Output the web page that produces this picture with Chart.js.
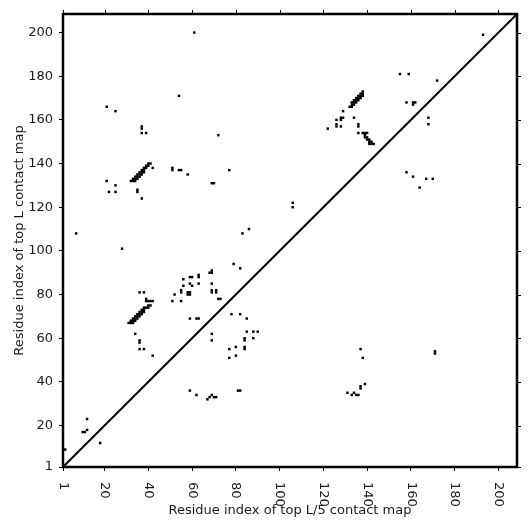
<!DOCTYPE html>
<html>
<head>
<meta charset="utf-8">
<script src="https://cdn.jsdelivr.net/npm/chart.js@4/dist/chart.umd.min.js"></script>
<style>
html, body { margin: 0; padding: 0; background: #fff; }
</style>
</head>
<body>
<canvas id="contact-map" width="531" height="531"></canvas>
<script>
// residue pairs above the diagonal (top L contacts)
const upperX = [61, 193, 54, 21, 25, 37, 37, 37, 39, 72, 77,
    132, 133, 133, 134, 134, 135, 135, 136, 136, 137, 137, 138, 138, 138, 133, 134, 135, 136, 137,
    129, 128, 129, 128, 126, 134, 126, 126, 128, 122, 136, 136, 136, 138, 139, 140,
    139, 139, 140, 140, 141, 141, 142, 141, 142, 143,
    155, 159, 172, 158, 161, 162, 161,
    32, 33, 34, 33, 34, 35, 34, 35, 36, 35, 36, 37, 36, 37, 38, 37, 38, 38, 39, 39, 40, 40, 41, 42,
    51, 51, 54, 55, 58, 69, 70, 35, 35, 37, 21, 25, 25, 22, 106, 106, 7, 28, 86, 83, 79, 82,
    68, 69, 69, 63, 63, 60, 59, 56, 56, 59, 60, 63, 69, 52, 51, 55, 55, 55, 58, 59, 58, 59,
    69, 69, 71, 71, 72, 73, 36, 38, 39, 39, 40, 41, 42, 40, 41, 38, 39, 40,
    31, 32, 33, 32, 33, 34, 33, 34, 35, 34, 35, 36, 35, 36, 37, 36, 37, 38, 37, 38,
    34, 36, 36, 36, 38, 42, 59, 62, 63, 2, 12, 12, 10, 11, 18]
const upperY = [200, 199, 171, 166, 164, 157, 156, 154, 154, 153, 137,
    166, 166, 167, 167, 168, 168, 169, 169, 170, 170, 171, 171, 172, 173, 168, 169, 170, 171, 172,
    164, 161, 161, 160, 160, 161, 157, 158, 157, 156, 158, 157, 154, 154, 154, 154,
    153, 152, 152, 151, 151, 150, 150, 149, 149, 149,
    181, 181, 178, 168, 168, 168, 167,
    132, 132, 132, 133, 133, 133, 134, 134, 134, 135, 135, 135, 136, 136, 136, 137, 137, 138, 138, 139, 139, 140, 140, 138,
    137, 138, 137, 137, 135, 131, 131, 128, 127, 124, 132, 130, 127, 127, 122, 120, 108, 101, 110, 108, 94, 92,
    90, 90, 91, 89, 88, 88, 88, 87, 84, 85, 84, 85, 85, 80, 77, 82, 81, 77, 81, 81, 80, 80,
    82, 81, 82, 81, 78, 78, 81, 81, 78, 77, 77, 77, 77, 75, 75, 74, 74, 74,
    67, 67, 67, 68, 68, 68, 69, 69, 69, 70, 70, 70, 71, 71, 71, 72, 72, 72, 73, 73,
    62, 59, 58, 55, 55, 52, 69, 69, 69, 9, 23, 18, 17, 17, 12]

// residue pairs below the diagonal (top L/5 contacts)
const lowerX = [78, 82, 85, 69, 69, 85, 88, 90, 84, 84, 88, 84, 84, 80, 77, 77, 80,
    67, 68, 69, 70, 71, 81, 82, 59, 62,
    131, 133, 134, 135, 136, 137, 137, 139, 137, 138, 171, 171,
    158, 161, 164, 167, 170, 168, 168]
const lowerY = [71, 71, 69, 62, 59, 63, 63, 63, 60, 59, 60, 56, 55, 56, 55, 51, 52,
    32, 33, 34, 33, 33, 36, 36, 36, 34,
    35, 34, 35, 34, 34, 37, 38, 39, 55, 51, 54, 53,
    136, 134, 129, 133, 133, 161, 158]

const tickValues = [1, 20, 40, 60, 80, 100, 120, 140, 160, 180, 200]
const axisRange = [1, 208.5]

const toPoints = (xs, ys) => xs.map((x, i) => ({x: x, y: ys[i]}))

const labelFont = {family: "DejaVu Sans", size: 13}
const inkColor = "#1a1a1a"

// frame round the plot, ticks on top/right, and x tick labels turned clockwise
const framePlugin = {
    id: "frame",
    afterDraw(chart) {
        const ctx = chart.ctx
        const area = chart.chartArea
        const xs = chart.scales.x
        const ys = chart.scales.y
        ctx.save()
        ctx.strokeStyle = "#000"
        ctx.lineWidth = 1
        ctx.beginPath()
        tickValues.forEach(v => {
            const px = Math.round(xs.getPixelForValue(v)) + 0.5
            ctx.moveTo(px, area.top)
            ctx.lineTo(px, area.top - 4)
            const py = Math.round(ys.getPixelForValue(v)) + 0.5
            ctx.moveTo(area.right, py)
            ctx.lineTo(area.right + 4, py)
        })
        ctx.stroke()

        ctx.lineWidth = 2.5
        ctx.strokeRect(area.left, area.top, area.right - area.left, area.bottom - area.top)

        ctx.fillStyle = inkColor
        ctx.font = labelFont.size + "px " + labelFont.family
        ctx.textAlign = "left"
        ctx.textBaseline = "middle"
        tickValues.forEach(v => {
            ctx.save()
            ctx.translate(xs.getPixelForValue(v), area.bottom + 15)
            ctx.rotate(Math.PI / 2)
            ctx.fillText(String(v), 0, 0)
            ctx.restore()
        })
        ctx.restore()
    }
}

const ctx = document.querySelector("#contact-map")

const myChart = new Chart(ctx, {
    type: "scatter",
    data: {
        datasets: [
            {
                label: "top L",
                data: toPoints(upperX, upperY),
                pointStyle: "rect",
                pointRadius: 1.75,
                borderWidth: 0,
                backgroundColor: "#000",
            },
            {
                label: "top L/5",
                data: toPoints(lowerX, lowerY),
                pointStyle: "rect",
                pointRadius: 1.75,
                borderWidth: 0,
                backgroundColor: "#000",
            },
            {
                type: "line",
                label: "diagonal",
                data: toPoints(axisRange, axisRange),
                borderColor: "#000",
                borderWidth: 2,
                pointRadius: 0,
                fill: false,
            }
        ]
    },
    options: {
        responsive: false,
        animation: false,
        layout: {padding: {left: 0, right: 14, top: 14, bottom: 0}},
        plugins: {
            legend: {display: false},
            tooltip: {enabled: false},
        },
        scales: {
            x: {
                type: "linear",
                min: axisRange[0],
                max: axisRange[1],
                afterBuildTicks: s => { s.ticks = tickValues.map(v => ({value: v})) },
                afterFit: s => { s.height = 64 },
                grid: {drawOnChartArea: false, drawTicks: true, tickLength: 4, color: "#000"},
                border: {display: false},
                ticks: {color: "rgba(0,0,0,0)", font: labelFont, autoSkip: false, maxRotation: 0},
                title: {
                    display: true,
                    text: "Residue index of top L/5 contact map",
                    font: labelFont,
                    color: inkColor,
                    padding: {top: 0, bottom: 13},
                },
            },
            y: {
                type: "linear",
                min: axisRange[0],
                max: axisRange[1],
                afterBuildTicks: s => { s.ticks = tickValues.map(v => ({value: v})) },
                afterFit: s => { s.width = 63 },
                grid: {drawOnChartArea: false, drawTicks: true, tickLength: 4, color: "#000"},
                border: {display: false},
                ticks: {color: inkColor, font: labelFont, autoSkip: false, padding: 6},
                title: {
                    display: true,
                    text: "Residue index of top L contact map",
                    font: labelFont,
                    color: inkColor,
                    padding: {top: 12, bottom: 0},
                },
            },
        },
    },
    plugins: [framePlugin]
});
</script>
</body>
</html>
